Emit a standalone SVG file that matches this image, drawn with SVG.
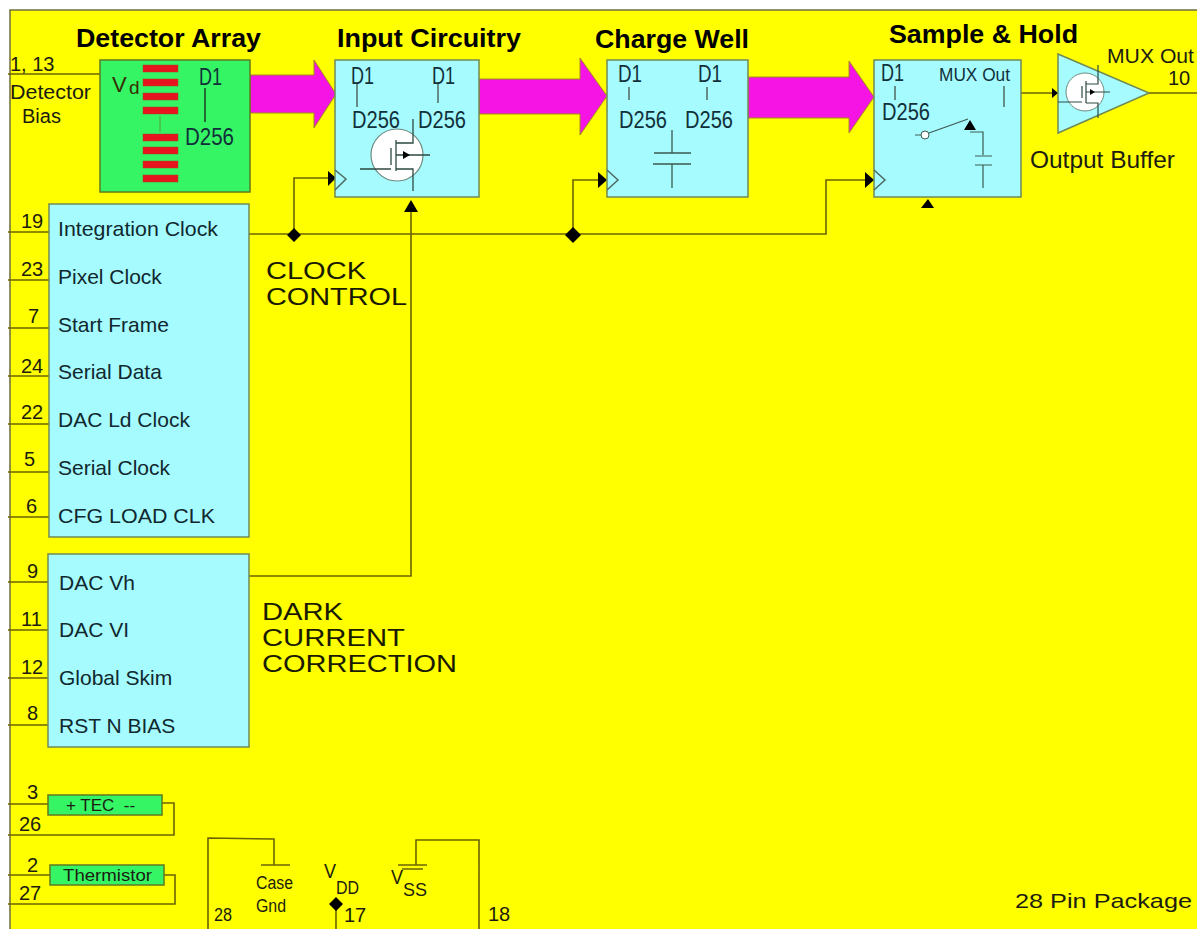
<svg xmlns="http://www.w3.org/2000/svg" width="1197" height="929" viewBox="0 0 1197 929">
<defs><style>
text{font-family:"Liberation Sans",Arial,sans-serif;fill:#1c1c10}
.t{font-size:25px;font-weight:bold;fill:#000}
.l{font-size:20px}
.i{font-size:21px;fill:#10282e}
.d{font-size:23px;fill:#11303a}
.c{font-size:22px;fill:#332f00}
.g{font-size:18px}
.box{fill:#a6fbff;stroke:#6f8a55;stroke-width:1.5}
.grn{fill:#35f565;stroke:#5f7a20;stroke-width:1.5}
.w{fill:none;stroke:#6b6400;stroke-width:1.6}
.n{fill:none;stroke:#4f6a60;stroke-width:1.5}
.k{fill:#000;stroke:none}
.m{fill:#f514e4;stroke:#a09010;stroke-width:1}
.r{fill:#e5141e;stroke:#a05020;stroke-width:.5}
</style></defs>
<rect width="1197" height="929" fill="#fff"/>
<rect x="10" y="10" width="1187" height="919" fill="#ffff00"/>
<path d="M10 929V10H1197" fill="none" stroke="#6d6d40" stroke-width="1.5"/>

<g id="connectors">
<path class="w" d="M8 74H100M8 232H49M8 280H49M8 328H49M8 376H49M8 424H49M8 472H49M8 517H49M8 582H48M8 630H48M8 678H48M8 725H48"/>
<path class="w" d="M249 234H826V180H866M294 235V178H328M573 235V180H598M249 576H411V212"/>
<path class="w" d="M8 804H48M162 803H174V835H8M8 875H50M164 875H175V904H8"/>
<path class="w" d="M208 929V838L274 839V865M261 865H290M336 904V929M416 865V840H479V929M398 865H427M402 869H423"/>
<path class="w" d="M1021 93H1058M1149 93H1197"/>
<path class="k" d="M328 171L336 178L328 186ZM598 172L607 180L598 188ZM865 172L874 180L865 188ZM404 212L411 200L418 212ZM1052 88L1058 93L1052 98Z"/>
<path class="k" d="M294 228L301 235L294 242L287 235ZM573 227L581 235L573 243L565 235ZM336 897L343 904L336 911L329 904Z"/>
<path class="m" d="M250 75H314V60L336 94L314 128V113H250Z"/>
<path class="m" d="M479 79H580V58L607 96L580 135V114H479Z"/>
<path class="m" d="M748 77H849V61L874 97L849 133V118H748Z"/>
</g>

<g id="detector-array">
<rect class="grn" x="100" y="60" width="150" height="132"/>
<g class="r"><rect x="143" y="65" width="35" height="7"/><rect x="143" y="79" width="35" height="7"/><rect x="143" y="93" width="35" height="7"/><rect x="143" y="107" width="35" height="7"/><rect x="143" y="134" width="35" height="7"/><rect x="143" y="147" width="35" height="7"/><rect x="143" y="161" width="35" height="7"/><rect x="143" y="175" width="35" height="7"/></g>
<path d="M160 116V132" stroke="#5a9a40" fill="none"/><path d="M205 88V122" stroke="#1c3c20" stroke-width="1.5" fill="none"/>
<text class="c" x="112" y="92">V</text><text class="c" x="129" y="94" style="font-size:19px">d</text>
<text class="d" x="199" y="85" textLength="23" lengthAdjust="spacingAndGlyphs">D1</text>
<text class="d" x="185" y="145" textLength="49" lengthAdjust="spacingAndGlyphs">D256</text>
<text class="t" x="76" y="47" textLength="185" lengthAdjust="spacingAndGlyphs">Detector Array</text>
<text class="l" x="10" y="71">1, 13</text>
<text class="l" x="10" y="99" textLength="81" lengthAdjust="spacingAndGlyphs">Detector</text>
<text class="l" x="22" y="123">Bias</text>
</g>

<g id="input-circuitry">
<rect class="box" x="335" y="60" width="144" height="137"/>
<path class="n" d="M335 170L346 179L335 190"/>
<path class="n" d="M357 84V107M438 84V103"/>
<circle cx="397" cy="155" r="26" fill="#fff" stroke="#6f8a80" stroke-width="1.2"/>
<path d="M413 119V143H396M396 140V171M391 148V165M360 169H391M396 155H430M396 169H413V191" fill="none" stroke="#2d4a40" stroke-width="1.3"/>
<path class="k" d="M403 151L410 155L403 159Z"/>
<text class="d" x="351" y="84" textLength="23" lengthAdjust="spacingAndGlyphs">D1</text>
<text class="d" x="432" y="84" textLength="23" lengthAdjust="spacingAndGlyphs">D1</text>
<text class="d" x="352" y="128" textLength="48" lengthAdjust="spacingAndGlyphs">D256</text>
<text class="d" x="418" y="128" textLength="48" lengthAdjust="spacingAndGlyphs">D256</text>
<text class="t" x="337" y="47" textLength="184" lengthAdjust="spacingAndGlyphs">Input Circuitry</text>
</g>

<g id="charge-well">
<rect class="box" x="607" y="60" width="141" height="137"/>
<path class="n" d="M607 170L618 180L607 190"/>
<path class="n" d="M629 87V100M707 87V100"/>
<path d="M672 130V153M654 153H691M653 164H691M672 164V188" fill="none" stroke="#3d5a50" stroke-width="1.3"/>
<text class="d" x="618" y="82" textLength="24" lengthAdjust="spacingAndGlyphs">D1</text>
<text class="d" x="698" y="82" textLength="24" lengthAdjust="spacingAndGlyphs">D1</text>
<text class="d" x="619" y="128" textLength="48" lengthAdjust="spacingAndGlyphs">D256</text>
<text class="d" x="685" y="128" textLength="48" lengthAdjust="spacingAndGlyphs">D256</text>
<text class="t" x="595" y="48" textLength="154" lengthAdjust="spacingAndGlyphs">Charge Well</text>
</g>

<g id="sample-hold">
<rect class="box" x="874" y="60" width="147" height="137"/>
<path class="n" d="M874 170L885 180L874 190"/>
<path class="n" d="M895 86V100M1004 86V107"/>
<circle cx="925" cy="135" r="4" fill="#fff" stroke="#3d5a50"/>
<path d="M915 135H921M929 133L968 119M970 132H983V155M975 156H992M975 165H992M983 165V188" fill="none" stroke="#3d5a50" stroke-width="1.2"/>
<path class="k" d="M970 120L976 130H964ZM928 199L934 208H921Z"/>
<text class="d" x="881" y="81" textLength="23" lengthAdjust="spacingAndGlyphs">D1</text>
<text class="d" x="882" y="120" textLength="48" lengthAdjust="spacingAndGlyphs">D256</text>
<text x="939" y="81" style="font-size:18px;fill:#11303a" textLength="71" lengthAdjust="spacingAndGlyphs">MUX Out</text>
<text class="t" x="889" y="43" textLength="189" lengthAdjust="spacingAndGlyphs">Sample &amp; Hold</text>
</g>

<g id="output-buffer">
<path d="M1058 54L1149 93L1058 133Z" class="box"/>
<circle cx="1085" cy="92" r="19" fill="#fff" stroke="#6f8a80" stroke-width="1"/>
<path d="M1098 65V84H1086M1086 81V103M1082 86V98M1058 102H1082M1086 92H1110M1086 103H1098V118" fill="none" stroke="#2d4a40" stroke-width="1.2"/>
<path class="k" d="M1090 89L1095 92L1090 95Z"/>
<text class="l" x="1107" y="63" textLength="87" lengthAdjust="spacingAndGlyphs">MUX Out</text>
<text class="l" x="1168" y="85">10</text>
<text x="1030" y="168" style="font-size:24px" textLength="145" lengthAdjust="spacingAndGlyphs">Output Buffer</text>
</g>

<g id="clock-control">
<rect class="box" x="49" y="204" width="200" height="333"/>
<text class="i" x="58" y="236" textLength="160" lengthAdjust="spacingAndGlyphs">Integration Clock</text>
<text class="i" x="58" y="284">Pixel Clock</text>
<text class="i" x="58" y="332">Start Frame</text>
<text class="i" x="58" y="379">Serial Data</text>
<text class="i" x="58" y="427">DAC Ld Clock</text>
<text class="i" x="58" y="475">Serial Clock</text>
<text class="i" x="58" y="523" textLength="157" lengthAdjust="spacingAndGlyphs">CFG LOAD CLK</text>
<text class="l" x="21" y="228">19</text><text class="l" x="21" y="276">23</text><text class="l" x="28" y="323">7</text><text class="l" x="21" y="373">24</text><text class="l" x="21" y="419">22</text><text class="l" x="24" y="466">5</text><text class="l" x="26" y="513">6</text>
<text x="266" y="279" style="font-size:23px;fill:#1a1a00" textLength="100" lengthAdjust="spacingAndGlyphs">CLOCK</text>
<text x="266" y="305" style="font-size:23px;fill:#1a1a00" textLength="141" lengthAdjust="spacingAndGlyphs">CONTROL</text>
</g>

<g id="dark-current-correction">
<rect class="box" x="48" y="554" width="201" height="193"/>
<text class="i" x="59" y="590">DAC Vh</text>
<text class="i" x="59" y="637">DAC VI</text>
<text class="i" x="59" y="685">Global Skim</text>
<text class="i" x="59" y="733">RST N BIAS</text>
<text class="l" x="27" y="578">9</text><text class="l" x="21" y="626">11</text><text class="l" x="21" y="674">12</text><text class="l" x="27" y="720">8</text>
<text x="262" y="620" style="font-size:23px;fill:#1a1a00" textLength="81" lengthAdjust="spacingAndGlyphs">DARK</text>
<text x="262" y="646" style="font-size:23px;fill:#1a1a00" textLength="143" lengthAdjust="spacingAndGlyphs">CURRENT</text>
<text x="262" y="672" style="font-size:23px;fill:#1a1a00" textLength="195" lengthAdjust="spacingAndGlyphs">CORRECTION</text>
</g>

<g id="tec">
<rect class="grn" x="48" y="795" width="114" height="20"/>
<text x="66" y="811" style="font-size:17px" xml:space="preserve">+ TEC  --</text>
<text class="l" x="27" y="799">3</text><text class="l" x="19" y="831">26</text>
</g>
<g id="thermistor">
<rect class="grn" x="50" y="865" width="114" height="20"/>
<text x="63" y="881" style="font-size:17px" textLength="89" lengthAdjust="spacingAndGlyphs">Thermistor</text>
<text class="l" x="27" y="872">2</text><text class="l" x="19" y="900">27</text>
</g>
<g id="power">
<text class="g" x="256" y="889" textLength="37" lengthAdjust="spacingAndGlyphs">Case</text>
<text class="g" x="256" y="912" textLength="30" lengthAdjust="spacingAndGlyphs">Gnd</text>
<text class="g" x="214" y="921" textLength="18" lengthAdjust="spacingAndGlyphs">28</text>
<text class="l" x="324" y="878" textLength="12" lengthAdjust="spacingAndGlyphs">V</text><text class="g" x="336" y="894" textLength="23" lengthAdjust="spacingAndGlyphs">DD</text>
<text class="l" x="344" y="922">17</text>
<text class="l" x="391" y="884" textLength="12" lengthAdjust="spacingAndGlyphs">V</text><text class="g" x="403" y="896" textLength="24" lengthAdjust="spacingAndGlyphs">SS</text>
<text class="l" x="488" y="921">18</text>
<text x="1015" y="908" style="font-size:21px" textLength="177" lengthAdjust="spacingAndGlyphs">28 Pin Package</text>
</g>
</svg>
